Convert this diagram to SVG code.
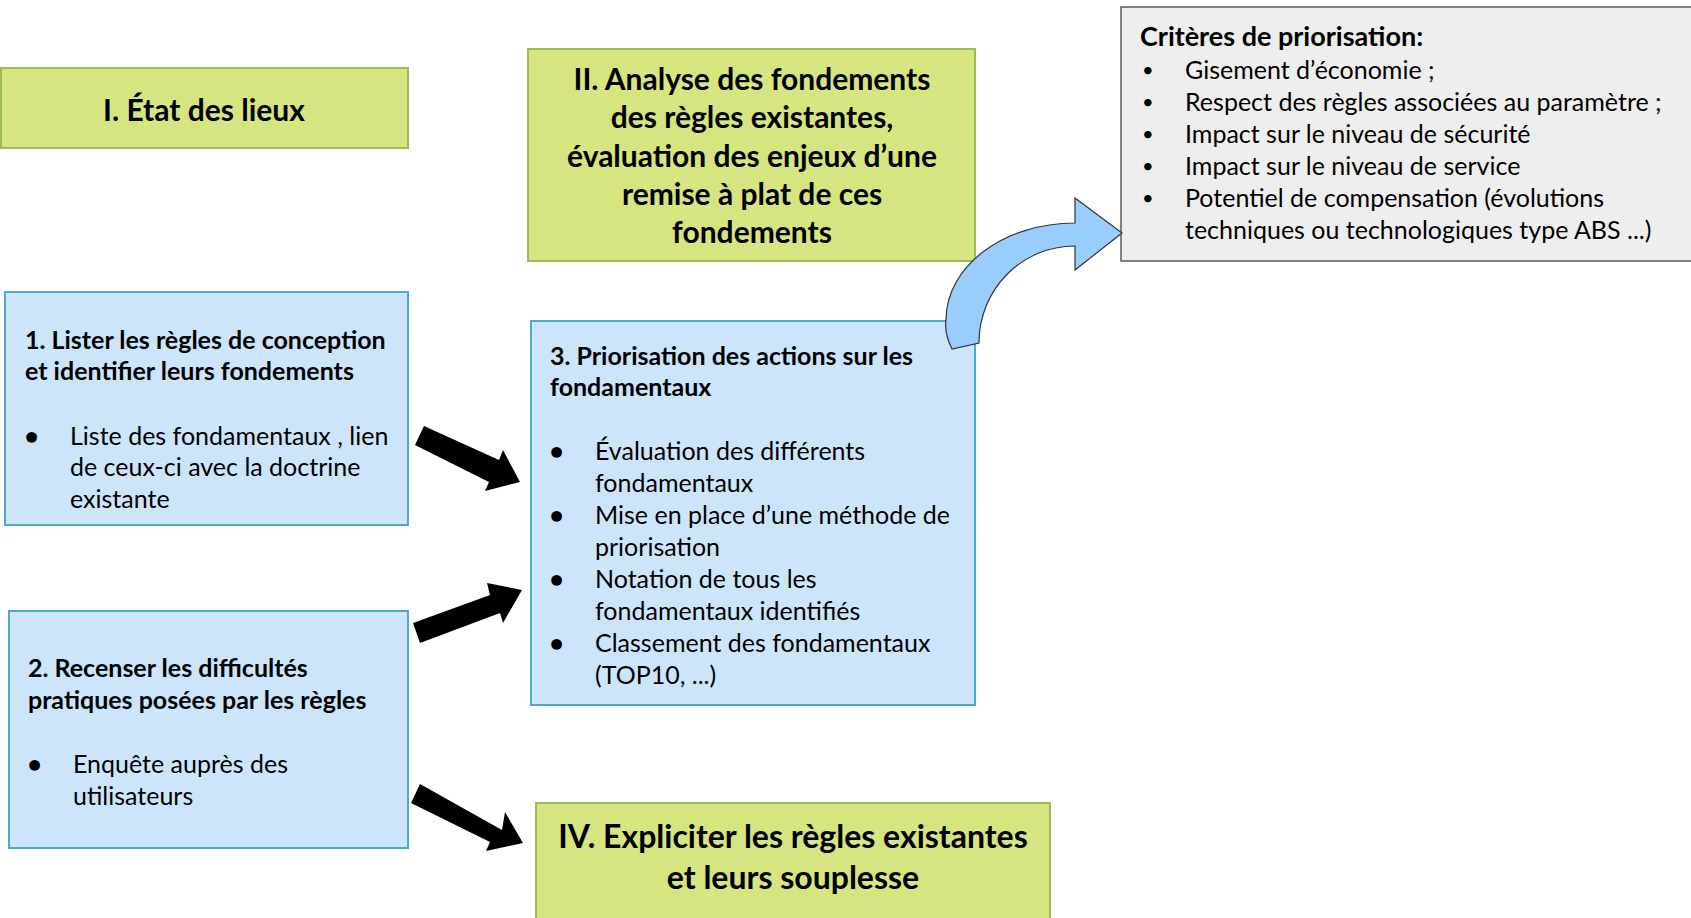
<svg xmlns="http://www.w3.org/2000/svg" width="1691" height="918" viewBox="0 0 1691 918">
<style>
.green{fill:#d6e57f;stroke:#9bbb59;stroke-width:2}
.blue{fill:#cce5fb;stroke:#4bacc6;stroke-width:2}
.grey{fill:#eeeeee;stroke:#5a5a5a;stroke-width:1.5}
text{font-family:Lato,"Open Sans","Liberation Sans",sans-serif;fill:#000}
.big{font-size:30px;font-weight:bold;text-anchor:middle}
.big4{font-size:32px;font-weight:bold;text-anchor:middle}
.h{font-size:25px;font-weight:bold}
.hc{font-size:27px;font-weight:bold}
.t{font-size:25px}
.sdot{font-size:20px}
.dot{font-size:22px}
</style>
<g id="node-etat">
<rect class="green" x="1" y="68" width="407" height="80"/>
<text class="big" x="204" y="121">I. État des lieux</text>
</g>
<g id="node-analyse">
<rect class="green" x="528" y="49" width="447" height="212"/>
<text class="big" x="752" y="90">II. Analyse des fondements</text>
<text class="big" x="752" y="128">des règles existantes,</text>
<text class="big" x="752" y="167">évaluation des enjeux d’une</text>
<text class="big" x="752" y="205">remise à plat de ces</text>
<text class="big" x="752" y="243">fondements</text>
</g>
<g id="node-criteres">
<rect class="grey" x="1121" y="7" width="590" height="254"/>
<text class="hc" x="1140" y="46">Critères de priorisation:</text>
<text class="sdot" x="1142" y="77">•</text><text class="t" x="1185" y="79">Gisement d’économie ;</text>
<text class="sdot" x="1142" y="109">•</text><text class="t" x="1185" y="111">Respect des règles associées au paramètre ;</text>
<text class="sdot" x="1142" y="141">•</text><text class="t" x="1185" y="143">Impact sur le niveau de sécurité</text>
<text class="sdot" x="1142" y="173">•</text><text class="t" x="1185" y="175">Impact sur le niveau de service</text>
<text class="sdot" x="1142" y="205">•</text><text class="t" x="1185" y="207">Potentiel de compensation (évolutions</text>
<text class="t" x="1185" y="239">techniques ou technologiques type ABS ...)</text>
</g>
<g id="node-lister">
<rect class="blue" x="5" y="292" width="403" height="233"/>
<text class="h" x="25" y="349">1. Lister les règles  de conception</text>
<text class="h" x="25" y="380">et identifier leurs fondements</text>
<text class="dot" x="25" y="444">●</text>
<text class="t" x="70" y="445">Liste des fondamentaux , lien</text>
<text class="t" x="70" y="476">de ceux-ci avec la doctrine</text>
<text class="t" x="70" y="508">existante</text>
</g>
<g id="node-recenser">
<rect class="blue" x="9" y="611" width="399" height="237"/>
<text class="h" x="28" y="677">2. Recenser les difficultés</text>
<text class="h" x="28" y="709">pratiques posées par les règles</text>
<text class="dot" x="28" y="772">●</text>
<text class="t" x="73" y="773">Enquête auprès des</text>
<text class="t" x="73" y="805">utilisateurs</text>
</g>
<g id="node-priorisation">
<rect class="blue" x="531" y="321" width="444" height="384"/>
<text class="h" x="550" y="365">3. Priorisation des actions sur les</text>
<text class="h" x="550" y="396">fondamentaux</text>
<text class="dot" x="550" y="459">●</text>
<text class="t" x="595" y="460">Évaluation des différents</text>
<text class="t" x="595" y="492">fondamentaux</text>
<text class="dot" x="550" y="523">●</text>
<text class="t" x="595" y="524">Mise en place d’une méthode de</text>
<text class="t" x="595" y="556">priorisation</text>
<text class="dot" x="550" y="587">●</text>
<text class="t" x="595" y="588">Notation de tous les</text>
<text class="t" x="595" y="620">fondamentaux identifiés</text>
<text class="dot" x="550" y="651">●</text>
<text class="t" x="595" y="652">Classement des fondamentaux</text>
<text class="t" x="595" y="684">(TOP10, ...)</text>
</g>
<g id="node-expliciter">
<rect class="green" x="536" y="803" width="514" height="130"/>
<text class="big4" x="793" y="848">IV. Expliciter les règles existantes</text>
<text class="big4" x="793" y="889">et leurs souplesse</text>
</g>
<g id="connectors">
<polygon points="424,426 499,460 503,450 520,482 485,491 489,482 415,445" fill="#000"/>
<polygon points="413,623 490,595 487,583 522,590 503,623 500,613 420,643" fill="#000"/>
<polygon points="420,784 502,830 505,812 523,843 486,851 490,842 411,803" fill="#000"/>
<path d="M952,349 Q944,333 946,320 C946,266 1004,223 1075,223 L1075,198 L1122,233 L1075,270 L1075,246 C1022,246 979,289 979,343 Z" fill="#99ccff" stroke="#333" stroke-width="1.2"/>
</g>
</svg>
